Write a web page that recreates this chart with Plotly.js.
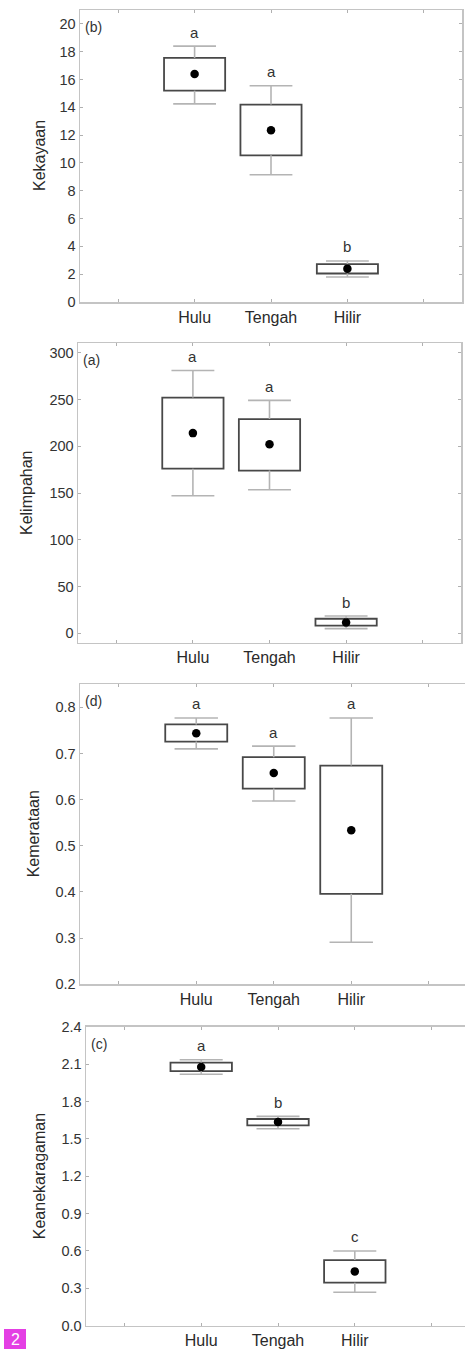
<!DOCTYPE html>
<html>
<head>
<meta charset="utf-8">
<script src="https://cdn.plot.ly/plotly-3.0.1.min.js"></script>
<style>
html, body { margin: 0; padding: 0; overflow: hidden; background: #fff; }
#chart { width: 475px; height: 1349px; }
</style>
</head>
<body>
<div id="chart"></div>
<script>
// ---- data ----
const categories = ['Hulu', 'Tengah', 'Hilir'];

const kekayaanMean      = [16.4, 12.35, 2.4];
const kekayaanBoxLow    = [15.2, 10.55, 2.05];
const kekayaanBoxHigh   = [17.55, 14.2, 2.72];
const kekayaanWhiskLow  = [14.25, 9.15, 1.8];
const kekayaanWhiskHigh = [18.4, 15.55, 2.95];
const kekayaanLetters   = ['a', 'a', 'b'];

const kelimpahanMean      = [214, 202, 11.5];
const kelimpahanBoxLow    = [176, 174, 8.2];
const kelimpahanBoxHigh   = [252, 229, 15.6];
const kelimpahanWhiskLow  = [147, 153.5, 5];
const kelimpahanWhiskHigh = [281, 249, 18.5];
const kelimpahanLetters   = ['a', 'a', 'b'];

const kemerataanMean      = [0.744, 0.658, 0.534];
const kemerataanBoxLow    = [0.726, 0.624, 0.396];
const kemerataanBoxHigh   = [0.763, 0.692, 0.674];
const kemerataanWhiskLow  = [0.710, 0.597, 0.291];
const kemerataanWhiskHigh = [0.777, 0.716, 0.777];
const kemerataanLetters   = ['a', 'a', 'a'];

const keanekaragamanMean      = [2.076, 1.635, 0.436];
const keanekaragamanBoxLow    = [2.044, 1.608, 0.345];
const keanekaragamanBoxHigh   = [2.111, 1.659, 0.527];
const keanekaragamanWhiskLow  = [2.018, 1.581, 0.268];
const keanekaragamanWhiskHigh = [2.135, 1.680, 0.600];
const keanekaragamanLetters   = ['a', 'b', 'c'];

const yTitles = ['Kekayaan', 'Kelimpahan', 'Kemerataan', 'Keanekaragaman'];
const panelLabels = ['(b)', '(a)', '(d)', '(c)'];
const badgeText = '2';

// ---- build ----
const W = 475, H = 1349;
const FONT = 'Liberation Sans, Arial, Helvetica, sans-serif';
const catPos = categories.map((c, i) => i + 1);

const panels = [
  {mean: kekayaanMean, lo: kekayaanBoxLow, hi: kekayaanBoxHigh, wl: kekayaanWhiskLow, wh: kekayaanWhiskHigh, letters: kekayaanLetters,
   px: [80, 462], py: [10, 302], yrange: [0, 21], dtick: 2, tick0: 0, fmt: 'd', titleX: 39},
  {mean: kelimpahanMean, lo: kelimpahanBoxLow, hi: kelimpahanBoxHigh, wl: kelimpahanWhiskLow, wh: kelimpahanWhiskHigh, letters: kelimpahanLetters,
   px: [78, 461], py: [343.3, 642.7], yrange: [-10, 310], dtick: 50, tick0: 0, fmt: 'd', titleX: 26},
  {mean: kemerataanMean, lo: kemerataanBoxLow, hi: kemerataanBoxHigh, wl: kemerataanWhiskLow, wh: kemerataanWhiskHigh, letters: kemerataanLetters,
   px: [80, 467.5], py: [684.3, 984.3], yrange: [0.2, 0.85], dtick: 0.1, tick0: 0.2, fmt: '.1f', titleX: 33},
  {mean: keanekaragamanMean, lo: keanekaragamanBoxLow, hi: keanekaragamanBoxHigh, wl: keanekaragamanWhiskLow, wh: keanekaragamanWhiskHigh, letters: keanekaragamanLetters,
   px: [86, 470], py: [1026.7, 1325.7], yrange: [0, 2.4], dtick: 0.3, tick0: 0, fmt: '.1f', titleX: 39}
];

const traces = [];
const layout = {
  width: W, height: H,
  margin: {l: 0, r: 0, t: 0, b: 0},
  paper_bgcolor: '#fff', plot_bgcolor: '#fff',
  showlegend: false,
  barmode: 'overlay',
  font: {family: FONT, color: '#333'},
  annotations: [],
  shapes: []
};

const axisCommon = {
  showgrid: false, zeroline: false, showline: true,
  linecolor: '#c4c4c4', linewidth: 1.5,
  ticks: 'inside', ticklen: 3, tickcolor: '#b0b0b0', tickwidth: 1,
  mirror: 'ticks', fixedrange: true
};

const capHalf = 0.28;
const boxWidth = 0.8;

panels.forEach((p, k) => {
  const n = k + 1;
  const xa = 'x' + (n === 1 ? '' : n), ya = 'y' + (n === 1 ? '' : n);
  const xKey = 'xaxis' + (n === 1 ? '' : n), yKey = 'yaxis' + (n === 1 ? '' : n);

  // boxes
  traces.push({
    type: 'bar', x: catPos, base: p.lo, y: p.hi.map((v, i) => v - p.lo[i]),
    width: boxWidth, xaxis: xa, yaxis: ya, hoverinfo: 'skip',
    marker: {color: '#ffffff', line: {color: '#484848', width: 1.8}}
  });

  // whiskers + caps
  const wx = [], wy = [];
  catPos.forEach((x, i) => {
    wx.push(x, x, null, x, x, null, x - capHalf, x + capHalf, null, x - capHalf, x + capHalf, null);
    wy.push(p.hi[i], p.wh[i], null, p.lo[i], p.wl[i], null, p.wh[i], p.wh[i], null, p.wl[i], p.wl[i], null);
  });
  traces.push({
    type: 'scatter', mode: 'lines', x: wx, y: wy, xaxis: xa, yaxis: ya,
    line: {color: '#b4b4b4', width: 1.6}, hoverinfo: 'skip', connectgaps: false
  });

  // means
  traces.push({
    type: 'scatter', mode: 'markers', x: catPos, y: p.mean, xaxis: xa, yaxis: ya,
    marker: {color: '#000', size: 8.5}, hoverinfo: 'skip'
  });

  layout[xKey] = Object.assign({}, axisCommon, {
    domain: [p.px[0] / W, p.px[1] / W],
    anchor: ya,
    range: [-0.5, 4.5],
    tickmode: 'array',
    tickvals: [0, ...catPos, catPos.length + 1],
    ticktext: ['', ...categories, ''],
    tickfont: {family: FONT, size: 16, color: '#2a2a2a'}
  });
  layout[yKey] = Object.assign({}, axisCommon, {
    domain: [1 - p.py[1] / H, 1 - p.py[0] / H],
    anchor: xa,
    range: p.yrange,
    tickmode: 'linear', tick0: p.tick0, dtick: p.dtick,
    tickformat: p.fmt,
    tickfont: {family: FONT, size: 14.5, color: '#333'}
  });

  // significance letters
  catPos.forEach((x, i) => {
    layout.annotations.push({
      xref: xa, yref: ya, x: x, y: p.wh[i], text: p.letters[i],
      showarrow: false, yanchor: 'middle', yshift: 14,
      font: {family: FONT, size: 15, color: '#333'}
    });
  });

  // panel label
  layout.annotations.push({
    xref: xa + ' domain', yref: ya + ' domain', x: 0, y: 1,
    xanchor: 'left', yanchor: 'middle', xshift: 3, yshift: -17,
    text: panelLabels[k], showarrow: false,
    font: {family: FONT, size: 14, color: '#333'}
  });

  // y-axis title
  layout.annotations.push({
    xref: 'paper', yref: 'paper', x: p.titleX / W, y: 1 - (p.py[0] + p.py[1]) / 2 / H,
    xanchor: 'center', yanchor: 'middle', textangle: -90,
    text: yTitles[k], showarrow: false,
    font: {family: FONT, size: 16, color: '#2a2a2a'}
  });
});

// page badge (background box runs off the bottom edge, the digit stays visible)
layout.shapes.push({
  type: 'rect', xref: 'paper', yref: 'paper', layer: 'above',
  x0: 4 / W, x1: 26 / W, y0: -6 / H, y1: 20 / H,
  fillcolor: '#e43fe4', line: {width: 0}
});
layout.annotations.push({
  xref: 'paper', yref: 'paper', x: 15 / W, y: 0, xanchor: 'center', yanchor: 'bottom',
  yshift: 0, text: badgeText, showarrow: false, borderpad: 0,
  font: {family: FONT, size: 16, color: '#ffffff'}
});

Plotly.newPlot('chart', traces, layout, {displayModeBar: false, staticPlot: true});
</script>
</body>
</html>
